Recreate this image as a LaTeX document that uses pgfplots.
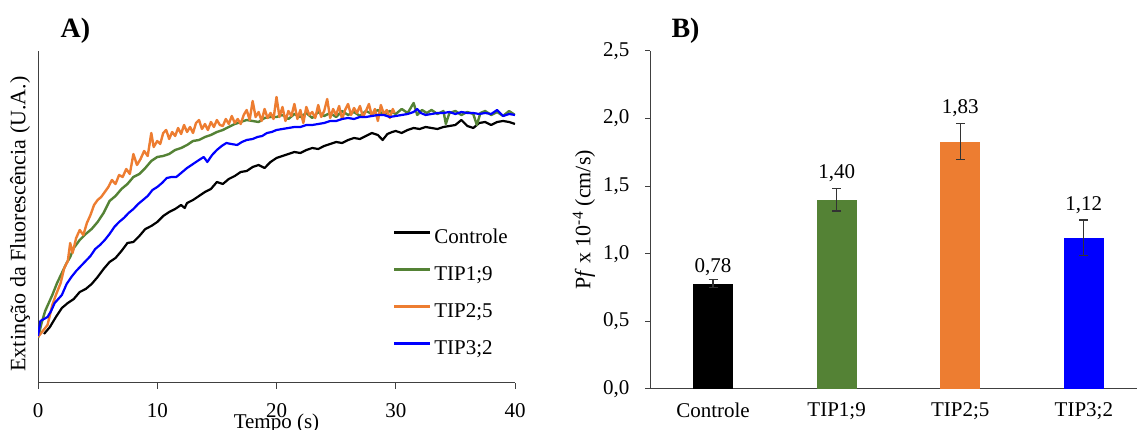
\documentclass[border=0pt]{standalone}
\usepackage{fontspec}
\setmainfont{Liberation Serif}
\usepackage{pgfplots}
\pgfplotsset{compat=1.18}
\definecolor{cgreen}{HTML}{548235}
\definecolor{corange}{HTML}{ED7D31}
\definecolor{cblue}{HTML}{0000FF}
\newcommand{\fs}{\fontsize{21}{25}\selectfont}
\newcommand{\fl}{\fontsize{22}{26}\selectfont}

\begin{document}
\begin{tikzpicture}
\useasboundingbox (0pt,0pt) rectangle (1137pt,430pt);

% A) kinetics
\begin{axis}[
  at={(38pt,47pt)}, anchor=south west, scale only axis,
  width=477pt, height=332pt,
  xmin=0, xmax=40, ymin=0, ymax=332,
  axis lines=left, axis line style={-, black!75, line width=1pt},
  ytick=\empty, xtick={0,10,20,30,40},
  tick align=outside, major tick length=6pt,
  tick style={black!75, line width=1pt},
  ticklabel style={font=\fs},
  xticklabel style={yshift=-11pt},
  /pgf/number format/assume math mode=true,
  xlabel={Tempo (s)},
  ylabel={Extinção da Fluorescência (U.A.)},
  label style={font=\fl},
  xlabel style={font=\fs, at={([yshift=-45.5pt]axis description cs:0.5,0)}, anchor=base},
  ylabel style={at={([xshift=-18pt,yshift=-7pt]axis description cs:0,0.5)}, anchor=center},
  legend style={at={(axis description cs:0.744,0.462)}, anchor=north west,
    draw=none, fill=none, inner sep=0pt, outer sep=0pt, font=\fs,
    row sep=18pt, column sep=3pt,
    nodes={inner sep=0pt, text height=14pt, text depth=5pt}},
  legend cell align=left,
  legend image code/.code={\draw[#1, line width=2.4pt] (0pt,6.5pt) -- (36pt,6.5pt);},
  every axis plot/.append style={line join=round},
]
\addplot[black, line width=2.2pt] coordinates {
(0.5,49) (1.0,56) (1.5,66) (2.0,75) (2.5,80) (3.0,84) (3.5,91) (4.0,94)
(4.5,99) (5.0,106) (5.5,114) (6.0,121) (6.5,125) (7.0,132) (7.5,140) (8.0,141)
(8.5,147) (9.0,154) (9.5,157) (10.0,161) (10.5,167) (11.0,171) (11.5,174) (12.0,178)
(12.3,175) (12.5,180) (13.0,183) (13.5,187) (14.0,191) (14.5,194) (15.0,201) (15.5,199)
(16.0,204) (16.5,207) (17.0,211) (17.5,212) (18.0,216) (18.5,218) (19.0,215) (19.5,221)
(20.0,225) (20.5,227) (21.0,229) (21.5,231) (22.0,230) (22.5,233) (23.0,235) (23.5,234)
(24.0,237) (24.5,239) (25.0,241) (25.5,240) (26.0,243) (26.5,245) (27.0,244) (27.5,247)
(28.0,250) (28.5,248) (28.9,243) (29.3,249) (29.7,251) (30.0,252) (30.5,250) (31.0,253)
(31.5,255) (32.0,254) (32.5,256) (33.0,255) (33.5,254) (34.0,256) (34.5,257) (35.0,258)
(35.5,263) (36.0,257) (36.5,255) (37.0,260) (37.5,261) (38.0,258) (38.5,261) (39.0,262)
(39.5,261) (40.0,259)
};
\addlegendentry{Controle}
\addplot[cgreen, line width=2.4pt] coordinates {
(0,45) (0.3,60) (0.6,72) (0.9,80) (1.2,88) (1.6,100) (2.0,110) (2.4,120)
(2.7,126) (3.0,135) (3.5,143) (4.0,149) (4.5,154) (5.0,161) (5.5,170) (6.0,182)
(6.5,187) (7.0,194) (7.5,199) (8.0,206) (8.5,209) (9.0,215) (9.5,222) (10.0,226)
(10.5,227) (11.0,229) (11.5,233) (12.0,235) (12.5,238) (13.0,242) (13.5,243) (14.0,246)
(14.5,248) (15.0,251) (15.5,253) (16.0,256) (16.5,259) (17.0,261) (17.5,263) (18.0,262)
(18.5,261) (19.0,265) (19.5,266) (20.0,266) (20.5,268) (21.0,264) (21.5,269) (22.0,266)
(22.5,270) (23.0,265) (23.5,271) (24.0,267) (24.5,270) (25.0,266) (25.5,272) (26.0,268)
(26.5,271) (27.0,267) (27.5,272) (28.0,269) (28.5,273) (29.0,268) (29.5,272) (30.0,269)
(30.5,274) (31.0,270) (31.5,280) (31.8,268) (32.2,273) (32.6,270) (33.0,273) (33.5,269)
(34.0,272) (34.2,259) (34.5,270) (35.0,272) (35.5,268) (36.0,271) (36.5,269) (36.8,258)
(37.1,270) (37.5,272) (38.0,268) (38.5,271) (39.0,267) (39.5,272) (40.0,268)
};
\addlegendentry{TIP1;9}
\addplot[corange, line width=2.4pt] coordinates {
(0,46) (0.4,52) (0.8,58) (1.2,78) (1.5,88) (1.9,100) (2.2,115) (2.5,122)
(2.7,140) (2.9,130) (3.2,145) (3.5,153) (3.8,148) (4.1,160) (4.4,168) (4.7,178)
(5.0,183) (5.3,186) (5.6,191) (5.9,196) (6.2,203) (6.5,199) (6.8,208) (7.1,206)
(7.4,214) (7.7,209) (8.0,229) (8.3,218) (8.6,224) (8.9,232) (9.2,227) (9.5,250)
(9.7,236) (10.0,242) (10.25,239) (10.5,250) (10.75,253) (11.0,244) (11.25,251) (11.5,247)
(11.75,255) (12.0,249) (12.25,258) (12.5,251) (12.75,256) (13.0,250) (13.25,260) (13.5,263)
(13.75,254) (14.0,259) (14.25,253) (14.5,261) (14.75,256) (15.0,263) (15.25,258) (15.5,257)
(15.75,264) (16.0,259) (16.25,267) (16.5,260) (16.75,264) (17.0,259) (17.25,268) (17.5,273)
(17.75,263) (18.0,282) (18.25,266) (18.5,271) (18.75,262) (19.0,274) (19.25,265) (19.5,270)
(19.75,264) (20.0,286) (20.25,266) (20.5,276) (20.75,262) (21.0,272) (21.25,267) (21.5,279)
(21.75,264) (22.0,273) (22.25,260) (22.5,276) (22.75,268) (23.0,271) (23.25,265) (23.5,278)
(23.75,266) (24.0,272) (24.25,284) (24.5,265) (24.75,274) (25.0,268) (25.25,277) (25.5,264)
(25.75,273) (26.0,279) (26.25,268) (26.5,275) (26.75,270) (27.0,277) (27.25,266) (27.5,272)
(27.75,279) (28.0,267) (28.25,274) (28.5,262) (28.75,278) (29.0,269) (29.25,273) (29.5,265)
(29.75,274) (29.9,270)
};
\addlegendentry{TIP2;5}
\addplot[cblue, line width=2.2pt] coordinates {
(0,47) (0.2,62) (0.5,64) (0.8,66) (1.1,72) (1.4,80) (1.7,84) (2.0,88)
(2.4,99) (2.8,106) (3.2,112) (3.6,117) (4.0,122) (4.4,127) (4.8,134) (5.2,138)
(5.6,143) (6.0,149) (6.4,156) (6.8,161) (7.2,165) (7.6,170) (8.0,174) (8.4,179)
(8.8,183) (9.2,187) (9.6,193) (10.0,196) (10.4,200) (10.8,205) (11.2,206) (11.6,206)
(12.0,210) (12.5,215) (13.0,219) (13.5,223) (13.9,226) (14.2,221) (14.6,228) (15.0,233)
(15.4,237) (15.8,240) (16.2,239) (16.7,238) (17.1,241) (17.5,243) (18.0,244) (18.4,246)
(18.8,247) (19.2,250) (19.6,251) (20.0,253) (20.5,254) (21.0,255) (21.5,256) (22.0,256)
(22.5,258) (23.0,258) (23.5,259) (24.0,260) (24.5,262) (25.0,262) (25.5,264) (26.0,265)
(26.5,264) (27.0,266) (27.5,266) (28.0,267) (28.5,268) (29.0,268) (29.5,266) (30.0,267)
(30.5,268) (31.0,269) (31.5,271) (31.8,274) (32.1,270) (32.5,268) (33.0,269) (33.5,270)
(34.0,270) (34.5,271) (35.0,269) (35.5,271) (36.0,270) (36.5,270) (37.0,269) (37.5,270)
(38.0,269) (38.5,273) (39.0,267) (39.5,269) (40.0,268)
};
\addlegendentry{TIP3;2}
\end{axis}
\node[anchor=base west, font=\fontsize{28}{32}\selectfont\bfseries] at (57pt,392pt) {A)};

% B) Pf
\begin{axis}[
  at={(650pt,41pt)}, anchor=south west, scale only axis,
  width=487pt, height=338pt,
  xmin=-0.51, xmax=3.43, ymin=0, ymax=2.5,
  axis lines=left, axis line style={-, black!75, line width=1pt},
  ytick={0,0.5,1,1.5,2,2.5},
  xtick={0,1,2,3}, xticklabels={Controle,TIP1;9,TIP2;5,TIP3;2},
  xtick style={draw=none},
  tick align=outside, major tick length=5pt,
  ytick style={black!75, line width=1pt},
  ticklabel style={font=\fs},
  xticklabel style={yshift=-5pt},
  yticklabel style={xshift=-12pt},
  /pgf/number format/assume math mode=true,
  yticklabel={\pgfmathprintnumber[fixed, fixed zerofill, precision=1, use comma]{\tick}},
  ylabel={P\textit{f} x 10\textsuperscript{-4} (cm/s)},
  label style={font=\fl},
  ylabel style={at={([xshift=-66pt]axis description cs:0,0.5)}, anchor=center},
  ybar, bar width=40pt,
]
\addplot[fill=black, draw=none, bar shift=0pt,
  error bars/.cd, y dir=both, y explicit,
  error bar style={black!80, line width=1.2pt},
  error mark options={rotate=90, mark size=4.5pt, black!80, line width=1.2pt}]
  coordinates {(0,0.78) +- (0,0.03)};
\addplot[fill=cgreen, draw=none, bar shift=0pt,
  error bars/.cd, y dir=both, y explicit,
  error bar style={black!80, line width=1.2pt},
  error mark options={rotate=90, mark size=4.5pt, black!80, line width=1.2pt}]
  coordinates {(1,1.40) +- (0,0.083)};
\addplot[fill=corange, draw=none, bar shift=0pt,
  error bars/.cd, y dir=both, y explicit,
  error bar style={black!80, line width=1.2pt},
  error mark options={rotate=90, mark size=4.5pt, black!80, line width=1.2pt}]
  coordinates {(2,1.83) +- (0,0.135)};
\addplot[fill=cblue, draw=none, bar shift=0pt,
  error bars/.cd, y dir=both, y explicit,
  error bar style={black!80, line width=1.2pt},
  error mark options={rotate=90, mark size=4.5pt, black!80, line width=1.2pt}]
  coordinates {(3,1.12) +- (0,0.13)};
% value labels placed above the error bars
\addplot[draw=none, fill=none, bar shift=0pt, point meta=explicit symbolic,
  nodes near coords, nodes near coords style={anchor=base, inner sep=0pt, font=\fs}]
  table[x=x, y=y, meta=lab, row sep=\\] {
  x y lab \\
  0 0.859 0,78 \\
  1 1.555 1,40 \\
  2 2.035 1,83 \\
  3 1.318 1,12 \\
};
\end{axis}
\node[anchor=base west, font=\fontsize{28}{32}\selectfont\bfseries] at (668pt,392pt) {B)};
\end{tikzpicture}
\end{document}
